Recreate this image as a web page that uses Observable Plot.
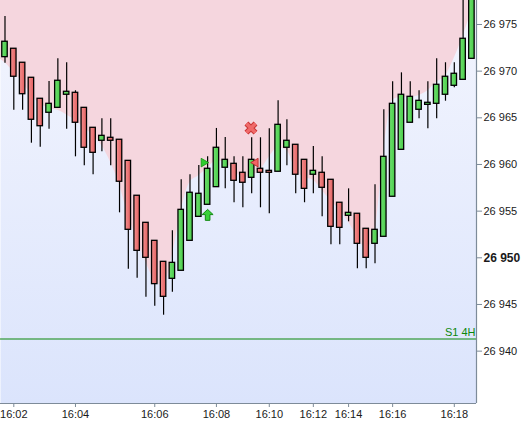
<!DOCTYPE html>
<html><head><meta charset="utf-8">
<script src="https://cdn.jsdelivr.net/npm/d3@7"></script>
<script src="https://cdn.jsdelivr.net/npm/@observablehq/plot@0.6"></script>
<style>html,body{margin:0;padding:0;background:#fff;overflow:hidden}</style>
</head><body><div id="chart"></div>
<script>
// ---- data ----
const opens  = [26971.5,26972.4,26970.9,26969.29,26967.04,26965.54,26966.07,26967.47,26967.68,26966.07,
                26963.93,26962.54,26962.86,26962.65,26960.39,26956.65,26953.75,26951.82,26949.57,26947.75,
                26948.61,26951.82,26954.39,26955.68,26957.57,26959.65,26960.07,26959.11,26958.57,26959.54,
                26959.32,26959.22,26961.79,26962.11,26960.5,26958.9,26959.11,26958.36,26955.9,26954.5,
                26954.72,26953.11,26951.5,26952.25,26956.54,26961.57,26964.47,26965.86,26966.39,26966.5,
                26967.47,26968.43,26969.07,26971.32];
const highs  = [26975.86,26972.4,26970.9,26969.29,26967.04,26968.89,26971.32,26970.9,26967.9,26966.07,
                26963.93,26964.9,26964.9,26962.65,26960.39,26956.65,26953.75,26951.82,26949.57,26952.89,
                26958.36,26958.89,26959.89,26960.82,26963.86,26962.89,26960.82,26960.82,26962.86,26962.86,
                26963.82,26966.82,26964.79,26962.11,26960.5,26961.93,26960.82,26958.36,26955.9,26957.39,
                26954.72,26953.11,26957.82,26965.86,26968.86,26969.82,26968.86,26967.9,26968.86,26971.32,
                26970.9,26970.9,26978.5,26980];
const lows   = [26970.85,26965.82,26965.82,26962.28,26961.85,26963.78,26966.07,26963.78,26960.82,26959.86,
                26958.9,26961.36,26959.86,26954.82,26948.78,26947.82,26945.78,26944.82,26943.85,26946.32,
                26948.61,26951.82,26954.39,26955.68,26957.57,26957.4,26955.9,26955.36,26956.86,26955.36,
                26954.72,26959.22,26959.86,26956.86,26955.9,26956.86,26954.39,26951.39,26951.39,26953.86,
                26948.82,26948.82,26949.36,26952.25,26956.54,26961.57,26964.47,26964.9,26963.82,26964.9,
                26966.78,26968.22,26969.07,26971.32];
const closes = [26973.15,26969.4,26967.53,26964.79,26964.1,26966.5,26968.97,26967.79,26964.47,26961.79,
                26961.25,26963.07,26962.54,26958.15,26953.0,26950.75,26950.0,26947.18,26945.82,26949.46,
                26955.14,26956.97,26956.86,26959.54,26961.79,26960.5,26958.25,26958.04,26960.5,26959.11,
                26959.11,26964.25,26962.54,26958.9,26957.39,26959.32,26957.5,26953.32,26953.21,26954.82,
                26951.5,26950.0,26953.0,26960.82,26966.5,26967.47,26967.25,26966.82,26966.61,26968.54,
                26969.4,26969.72,26973.47,26979.5];
// lower edge of the shaded (pink) band, one value per bar, from bar -1 to bar 54
const cloudEdge = [26971.6,26970.9,26969.9,26968.8,26967.4,26966.5,26966.0,26965.8,26965.3,26964.7,26963.9,
                   26963.1,26962.0,26960.2,26957.8,26954.5,26951.9,26949.5,26947.6,26947.0,26950.3,
                   26955.1,26958.1,26958.8,26959.6,26960.4,26960.2,26959.4,26958.6,26958.8,26959.4,
                   26960.8,26961.8,26961.5,26959.4,26958.6,26958.3,26957.2,26956.1,26955.1,26953.8,
                   26952.2,26951.0,26952.9,26961.5,26966.9,26967.2,26967.2,26967.4,26967.9,26968.8,
                   26969.5,26971.4,26973.8,26976.5,26979.0];
const timeTickIndex  = [1, 8, 17, 24, 30, 35, 39, 44, 51];
const timeTickLabels = ["16:02","16:04","16:06","16:08","16:10","16:12","16:14","16:16","16:18"];
const priceTicks = [26940, 26945, 26950, 26955, 26960, 26965, 26970, 26975];
const lastPriceTick = 26950;
const supportLevel = 26941.3;
const supportLabel = "S1 4H";
const buyTriangle  = [{i: 22.55, p: 26960.2}];
const sellTriangle = [{i: 28.45, p: 26960.2}];
const exitCross    = [{i: 27.92, p: 26963.9}];
const buyArrow     = [{i: 23.0,  p: 26954.6}];

// ---- build tables ----
const candles = opens.map((o, i) => ({i, open: o, high: highs[i], low: lows[i], close: closes[i], up: closes[i] >= o}));
const cloud = cloudEdge.map((v, k) => ({i: k - 1, edge: v}));
const xDomain = [-0.51, 53.52];
const yDomain = [26934.39, 26977.57];

const arrowSymbol = {
  draw(ctx, size) {
    const s = Math.sqrt(size) / 2;
    ctx.moveTo(0, -s);
    ctx.lineTo(s, -s * 0.05);
    ctx.lineTo(s * 0.42, -s * 0.05);
    ctx.lineTo(s * 0.42, s);
    ctx.lineTo(-s * 0.42, s);
    ctx.lineTo(-s * 0.42, -s * 0.05);
    ctx.lineTo(-s, -s * 0.05);
    ctx.closePath();
  }
};

const fmt = d => d3.format(",")(d).replace(/,/g, " ");

const chart = Plot.plot({
  width: 526, height: 423,
  marginLeft: 0, marginRight: 50, marginTop: 0, marginBottom: 20,
  style: {fontFamily: "'Liberation Sans', Arial, sans-serif", fontSize: "11px", background: "#fff", color: "#1a1a1a"},
  x: {type: "linear", domain: xDomain, axis: null, label: null},
  y: {domain: yDomain, axis: null, label: null},
  marks: [
    Plot.frame({fill: "url(#bgGrad)", stroke: null}),
    Plot.areaY(cloud, {x: "i", y1: "edge", y2: () => yDomain[1], fill: "#f5d6de", curve: "monotone-x", clip: true}),
    Plot.ruleY([supportLevel], {stroke: "#0b870b", strokeWidth: 1}),
    Plot.text([supportLabel], {y: () => supportLevel, frameAnchor: "right", textAnchor: "end", dx: -1, dy: -7, fill: "#0b870b", fontSize: 11}),
    Plot.ruleX(candles, {x: "i", y1: "low", y2: "high", stroke: "#000", strokeWidth: 1.2, clip: true}),
    Plot.rect(candles.filter(d => d.up), {x1: d => d.i - 0.31, x2: d => d.i + 0.31, y1: "open", y2: "close", fill: "url(#gUp)", stroke: "#000", strokeWidth: 1.3, clip: true}),
    Plot.rect(candles.filter(d => !d.up), {x1: d => d.i - 0.31, x2: d => d.i + 0.31, y1: "open", y2: "close", fill: "url(#gDn)", stroke: "#000", strokeWidth: 1.3, clip: true}),
    Plot.dot(buyTriangle, {x: "i", y: "p", symbol: "triangle", rotate: 90, r: 3.2, fill: "#2ecc2e", stroke: "#139013", strokeWidth: 0.8}),
    Plot.dot(sellTriangle, {x: "i", y: "p", symbol: "triangle", rotate: -90, r: 3.2, fill: "#f06565", stroke: "#b02020", strokeWidth: 0.8}),
    Plot.dot(exitCross, {x: "i", y: "p", symbol: "times", r: 4.2, stroke: "#c83434", strokeWidth: 5.5}),
    Plot.dot(exitCross, {x: "i", y: "p", symbol: "times", r: 4.2, stroke: "#f06a6a", strokeWidth: 3.5}),
    Plot.dot(buyArrow, {x: "i", y: "p", symbol: arrowSymbol, r: 6.2, fill: "#3ad23a", stroke: "#138a13", strokeWidth: 1}),
    Plot.ruleX([xDomain[1]], {stroke: "#7d8b99", strokeWidth: 1.2}),
    Plot.ruleY([yDomain[0]], {stroke: "#7d8b99", strokeWidth: 1.2}),
    Plot.axisY(priceTicks, {anchor: "right", label: null, tickSize: 5, tickPadding: 2, tickFormat: fmt, stroke: "#7d8b99", fill: "#1a1a1a", fontSize: 11}),
    Plot.axisX(timeTickIndex, {anchor: "bottom", label: null, tickSize: 4, tickPadding: 3, tickFormat: d => timeTickLabels[timeTickIndex.indexOf(d)], stroke: "#7d8b99", fill: "#1a1a1a", fontSize: 11})
  ]
});

const svg = d3.select(chart);
const defs = svg.insert("defs", ":first-child");
const bg = defs.append("linearGradient").attr("id", "bgGrad").attr("x1", 0).attr("y1", 0).attr("x2", 0).attr("y2", 1);
bg.append("stop").attr("offset", "0%").attr("stop-color", "#f3f5fe");
bg.append("stop").attr("offset", "100%").attr("stop-color", "#dbe4fc");
const gu = defs.append("linearGradient").attr("id", "gUp").attr("x1", 0).attr("y1", 0).attr("x2", 1).attr("y2", 0);
gu.append("stop").attr("offset", "0%").attr("stop-color", "#6fe06f");
gu.append("stop").attr("offset", "100%").attr("stop-color", "#49cc49");
const gd = defs.append("linearGradient").attr("id", "gDn").attr("x1", 0).attr("y1", 0).attr("x2", 1).attr("y2", 0);
gd.append("stop").attr("offset", "0%").attr("stop-color", "#f49090");
gd.append("stop").attr("offset", "100%").attr("stop-color", "#e25f5f");
svg.selectAll("text").filter(function() { return this.textContent === fmt(lastPriceTick); })
   .attr("font-weight", "bold").attr("font-size", 12);

document.getElementById("chart").appendChild(chart);
</script>
</body></html>
